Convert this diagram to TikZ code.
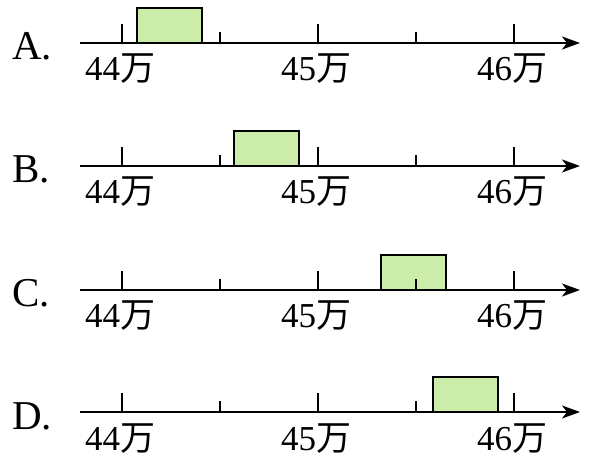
\documentclass[tikz,border=0pt]{standalone}
\usepackage{fontspec}
\setmainfont{Liberation Serif}
\newfontfamily\cjk{Noto Sans CJK SC}
\usetikzlibrary{arrows.meta}
\begin{document}
\begin{tikzpicture}[x=1pt,y=-1pt,
  axis/.style={line width=2pt,-{Stealth[length=18pt,width=13pt,inset=5pt]}},
  tickline/.style={line width=2pt},
  valbox/.style={draw,line width=2pt,fill=boxgreen},
  numlab/.style={font=\fontsize{35}{38}\selectfont,inner sep=0pt,anchor=base},
  letlab/.style={font=\fontsize{41}{44}\selectfont,inner sep=0pt,anchor=base west}]
\definecolor{boxgreen}{RGB}{204,236,170}
\useasboundingbox (0,0) rectangle (592,462);
\foreach \lab/\ay/\bx in {A/43/137, B/166/234, C/290/381, D/412/433}{
  \node[letlab] (let\lab) at (12,\ay+17) {\lab.};
  \draw[valbox] (\bx,\ay) rectangle ++(65,-35);
  \coordinate (s\lab) at (80,\ay);
  \coordinate (e\lab) at (580,\ay);
  \draw[axis] (s\lab) -- (e\lab);
  \foreach \tx in {122,318,514}{\draw[tickline] (\tx,\ay) -- (\tx,\ay-19);}
  \foreach \tx in {220,416}{\draw[tickline] (\tx,\ay) -- (\tx,\ay-11);}
  \node[numlab] (n44\lab) at (120,\ay+38) {44{\cjk 万}};
  \node[numlab] (n45\lab) at (316,\ay+38) {45{\cjk 万}};
  \node[numlab] (n46\lab) at (512,\ay+38) {46{\cjk 万}};
}
\end{tikzpicture}
\end{document}
